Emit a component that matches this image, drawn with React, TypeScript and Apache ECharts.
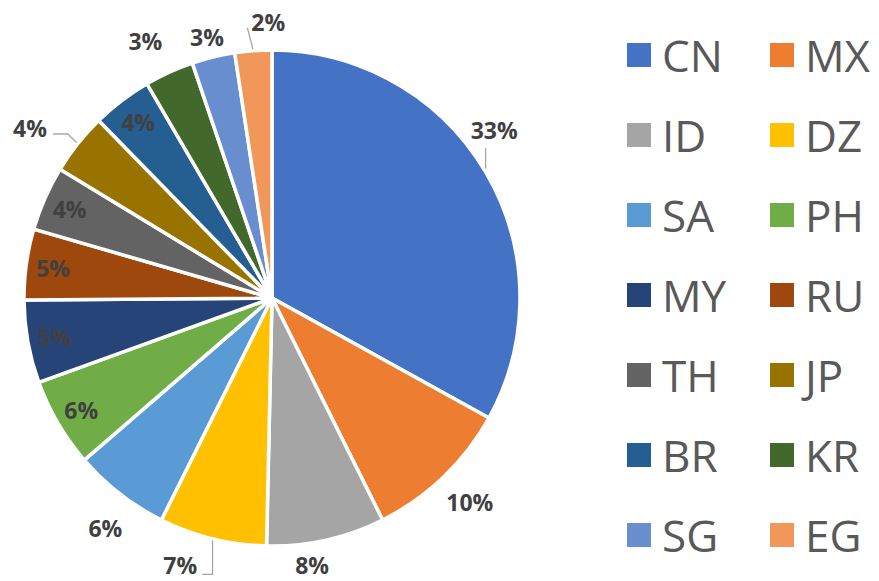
import React, { useEffect, useRef } from "react";
import * as echarts from "echarts";

const categories = ["CN", "MX", "ID", "DZ", "SA", "PH", "MY", "RU", "TH", "JP", "BR", "KR", "SG", "EG"];
const shares = [33.0, 9.6, 7.7, 7.0, 6.3, 5.8, 5.4, 4.6, 4.2, 4.0, 3.9, 3.2, 2.8, 2.4];
const colors = ["#4472C4", "#ED7D31", "#A5A5A5", "#FFC000", "#5B9BD5", "#70AD47", "#264478", "#9E480E", "#636363", "#997300", "#255E91", "#43682B", "#698ED0", "#F1975A"];
// label placement per slice: "in" = inside near the rim, "out" = outside
const labelPlace = ["out", "out", "out", "out", "out", "in", "in", "in", "in", "out", "in", "out", "out", "out"];
const leaderLine = [true, false, false, true, false, false, false, false, false, true, false, false, false, true];

export default function App() {
  const ref = useRef<HTMLDivElement>(null);
  useEffect(() => {
    if (!ref.current) return;
    const chart = echarts.init(ref.current, null, { renderer: "svg" });
    // small nudges of the outside labels (Excel "best fit" placement)
    const nudge: Record<number, [number, number]> = {
      0: [-30, -35],
      1: [-10, 15],
      2: [-37, 11],
      3: [-9, 13],
      4: [14, 23],
      9: [-17, -7],
      11: [2, -19],
      12: [17, -6],
      13: [36, -15],
    };
    // leader line shapes, built from the slice edge point and the moved label box
    const leader = (i: number, p0: number[], r: { x: number; y: number; width: number; height: number }) => {
      const cy = r.y + r.height / 2;
      const left = r.x;
      const right = r.x + r.width;
      if (i === 0) return [p0, [p0[0], cy + 18]];
      if (i === 3) return [p0, [p0[0], cy + 9], [right + 5, cy + 9]];
      if (i === 9) return [p0, [p0[0] - 10, cy + 6], [right + 6, cy + 6]];
      if (i === 13) return [p0, [left - 4, cy + 6]];
      return null;
    };
    const fmt = (p: any) => Math.round(p.percent) + "%";
    const labelFont = {
      fontFamily: "Open Sans",
      fontWeight: "bold" as const,
      fontSize: 23,
      lineHeight: 22,
      color: "#404040",
    };
    const mainData = categories.map((name, i) => ({
      name,
      value: shares[i],
      itemStyle: { color: colors[i] },
      label: { show: labelPlace[i] === "out" },
      labelLine: { show: leaderLine[i] },
    }));
    const innerData = categories.map((name, i) => ({
      name,
      value: shares[i],
      label: { show: labelPlace[i] === "in" },
    }));
    const col1 = categories.filter((_, i) => i % 2 === 0);
    const col2 = categories.filter((_, i) => i % 2 === 1);
    const legendBase = {
      orient: "vertical" as const,
      top: 25,
      itemWidth: 26,
      itemHeight: 26,
      itemGap: 30,
      icon: "rect",
      selectedMode: false,
      textStyle: {
        fontFamily: "Open Sans",
        fontSize: 44,
        color: "#595959",
        lineHeight: 50,
        padding: [0, 0, 0, 5],
      },
    };
    chart.setOption({
      animation: false,
      backgroundColor: "#ffffff",
      legend: [
        { ...legendBase, left: 620, data: col1 },
        { ...legendBase, left: 763, data: col2 },
      ],
      series: [
        {
          type: "pie",
          center: [272, 298],
          radius: 248,
          startAngle: 90,
          clockwise: true,
          avoidLabelOverlap: false,
          data: mainData,
          itemStyle: { borderColor: "#ffffff", borderWidth: 3.5 },
          label: { ...labelFont, position: "outside", formatter: fmt, distanceToLabelLine: 3 },
          labelLine: { length: 14, length2: 0, lineStyle: { color: "#A6A6A6", width: 1.3 } },
          labelLayout: (params: any) => {
            const i = params.dataIndex;
            const d = nudge[i];
            if (!d) return {};
            const lr = params.labelRect;
            const moved = { x: lr.x + d[0], y: lr.y + d[1], width: lr.width, height: lr.height };
            const out: any = { dx: d[0], dy: d[1] };
            const pts = params.labelLinePoints;
            if (leaderLine[i] && pts && pts.length) {
              const l = leader(i, pts[0], moved);
              if (l) out.labelLinePoints = l;
            }
            return out;
          },
          emphasis: { disabled: true },
        },
        {
          type: "pie",
          center: [272, 298],
          radius: [188, 248],
          startAngle: 90,
          clockwise: true,
          silent: true,
          legendHoverLink: false,
          avoidLabelOverlap: false,
          data: innerData,
          itemStyle: { color: "rgba(0,0,0,0)", borderWidth: 0 },
          label: { ...labelFont, position: "inside", formatter: fmt },
          labelLine: { show: false },
          emphasis: { disabled: true },
        },
      ],
    });
    return () => chart.dispose();
  }, []);
  return (
    <div
      ref={ref}
      style={{ position: "absolute", left: 0, top: 0, width: 879, height: 581 }}
    />
  );
}
